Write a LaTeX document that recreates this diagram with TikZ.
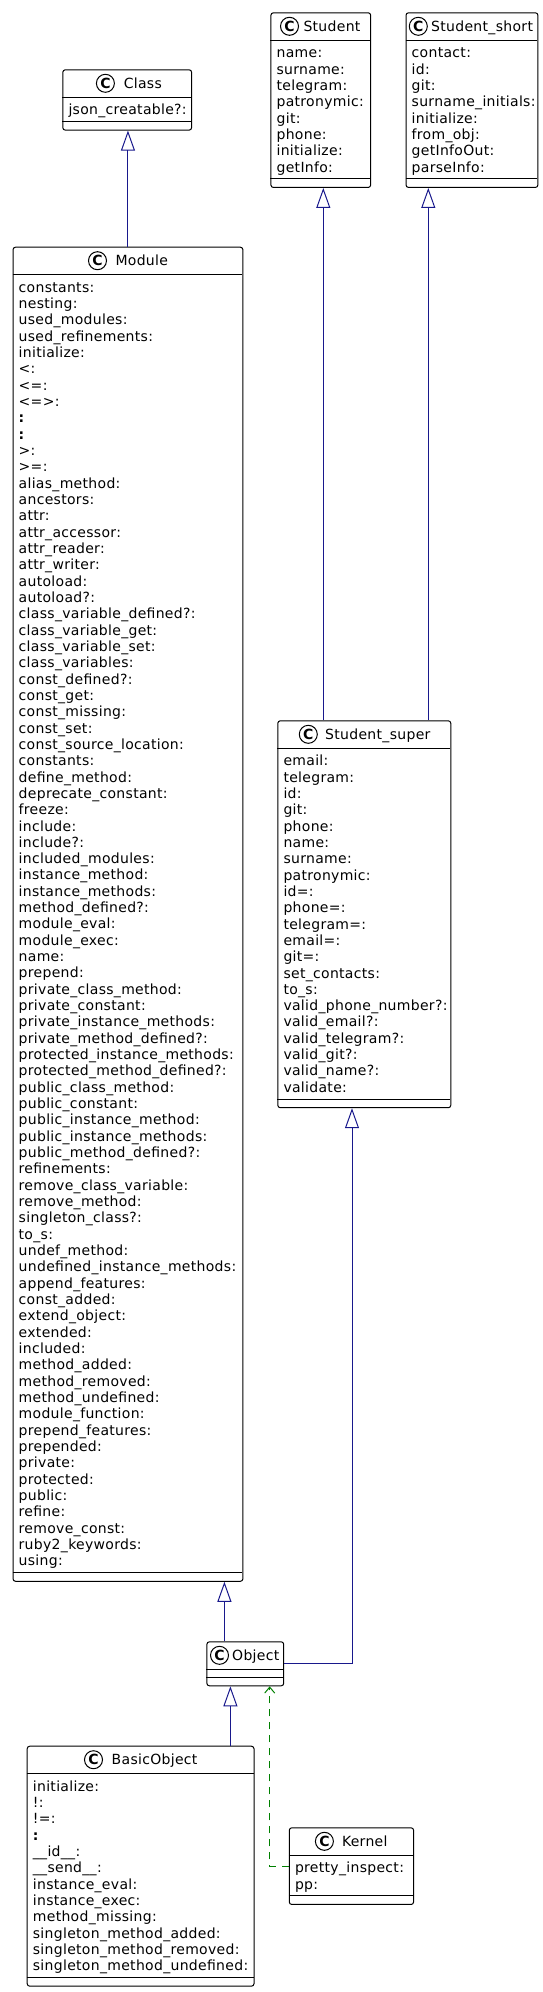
\documentclass[tikz,border=0pt]{standalone}
\usepackage{fontspec}
\setmainfont{DejaVu Sans}[LetterSpace=2.2]
\usepackage{tikz}
\usetikzlibrary{arrows.meta, positioning, calc}
\definecolor{umlnavy}{RGB}{24,24,140}
\definecolor{umlgreen}{RGB}{0,128,0}
\tikzset{
  classbox/.style={draw=black, line width=1pt, rounded corners=2.5pt, fill=white, inner sep=0pt},
  spot/.style={circle, draw=black, line width=1pt, minimum size=18pt, inner sep=0pt, font=\fontsize{14}{16}\selectfont\bfseries},
  member/.style={anchor=base west, inner sep=0pt, font=\fontsize{14}{16}\selectfont},
  inherit/.style={umlnavy, line width=1pt, -{Triangle[open, length=20pt, width=14pt]}},
  depends/.style={umlgreen, line width=1pt, dash pattern=on 7pt off 6pt, -{Straight Barb[length=6pt, width=10pt]}}
}
\newcommand{\umlclass}[9]{%
  \pgfmathsetmacro\umlh{44+#6*16.33}
  \node[classbox, minimum width=#5pt, minimum height=\umlh pt, anchor=north west] (#1) at (#3,#4) {};
  \draw[line width=1pt] (#3,#4+28) -- ++(#5,0);
  \draw[line width=1pt] (#3,#4+\umlh-8) -- ++(#5,0);
  \node[spot] at (#3+#7,#4+14) {C};
  \node[member] at (#3+#8,#4+19) {#2};
  \foreach \m [count=\i] in {#9}
    \node[member] at (#3+6,{#4+45.4+(\i-1)*16.33}) {\m};
}

\begin{document}
\begin{tikzpicture}[x=1pt, y=-1pt]
    \useasboundingbox (0,0) rectangle (543,1992);
    \umlclass{Class}{Class}{62.3}{69.3}{128.8}{1}{43.1}{61.3}{json\_creatable?:}
    \umlclass{Student}{Student}{270.4}{12.3}{99.8}{8}{19.1}{32.9}{name:,surname:,telegram:,patronymic:,git:,phone:,initialize:,getInfo:}
    \umlclass{Short}{Student\_short}{405.5}{12.3}{131.9}{8}{12.8}{25.5}{contact:,id:,git:,surname\_initials:,initialize:,from\_obj:,getInfoOut:,parseInfo:}
    \umlclass{Module}{Module}{12.5}{246.7}{229.9}{79}{85}{102.8}{constants:,nesting:,used\_modules:,used\_refinements:,initialize:,<:,<=:,<=>:,{\bfseries :},{\bfseries :},>:,>=:,alias\_method:,ancestors:,attr:,attr\_accessor:,attr\_reader:,attr\_writer:,autoload:,autoload?:,class\_variable\_defined?:,class\_variable\_get:,class\_variable\_set:,class\_variables:,const\_defined?:,const\_get:,const\_missing:,const\_set:,const\_source\_location:,constants:,define\_method:,deprecate\_constant:,freeze:,include:,include?:,included\_modules:,instance\_method:,instance\_methods:,method\_defined?:,module\_eval:,module\_exec:,name:,prepend:,private\_class\_method:,private\_constant:,private\_instance\_methods:,private\_method\_defined?:,protected\_instance\_methods:,protected\_method\_defined?:,public\_class\_method:,public\_constant:,public\_instance\_method:,public\_instance\_methods:,public\_method\_defined?:,refinements:,remove\_class\_variable:,remove\_method:,singleton\_class?:,to\_s:,undef\_method:,undefined\_instance\_methods:,append\_features:,const\_added:,extend\_object:,extended:,included:,method\_added:,method\_removed:,method\_undefined:,module\_function:,prepend\_features:,prepended:,private:,protected:,public:,refine:,remove\_const:,ruby2\_keywords:,using:}
    \umlclass{Super}{Student\_super}{277.3}{720.3}{173}{21}{31}{47.7}{email:,telegram:,id:,git:,phone:,name:,surname:,patronymic:,id=:,phone=:,telegram=:,email=:,git=:,set\_contacts:,to\_s:,valid\_phone\_number?:,valid\_email?:,valid\_telegram?:,valid\_git?:,valid\_name?:,validate:}
    \umlclass{Object}{Object}{206.4}{1641.3}{76.8}{0}{13.1}{25.6}{}
    \umlclass{Basic}{BasicObject}{26.7}{1745.7}{226.8}{12}{66.8}{84.8}{initialize:,!:,!=:,{\bfseries :},\_\_id\_\_:,\_\_send\_\_:,instance\_eval:,instance\_exec:,method\_missing:,singleton\_method\_added:,singleton\_method\_removed:,singleton\_method\_undefined:}
    \umlclass{Kernel}{Kernel}{288.8}{1827.3}{124.3}{2}{35.6}{53}{pretty\_inspect:,pp:}
    \coordinate (superA) at ([xshift=46pt]Super.north west);
    \coordinate (superB) at ([xshift=-23pt]Super.north east);
    \coordinate (superC) at ([xshift=-12.3pt]Super.south);
    \coordinate (objectA) at ([xshift=18pt]Object.north west);
    \coordinate (objectB) at ([xshift=24pt]Object.south west);
    \coordinate (objectC) at ([xshift=-14.5pt]Object.south east);
    \draw[inherit] (Module.north) -- (Module.north |- Class.south);
    \draw[inherit] (superA) -- (superA |- Student.south);
    \draw[inherit] (superB) -- (superB |- Short.south);
    \draw[inherit] (objectA) -- (objectA |- Module.south);
    \draw[inherit] (Object.east) -| (superC);
    \draw[inherit] (objectB |- Basic.north) -- (objectB);
    \draw[depends] (Kernel.west) -| (objectC);
  \end{tikzpicture}
\end{document}
